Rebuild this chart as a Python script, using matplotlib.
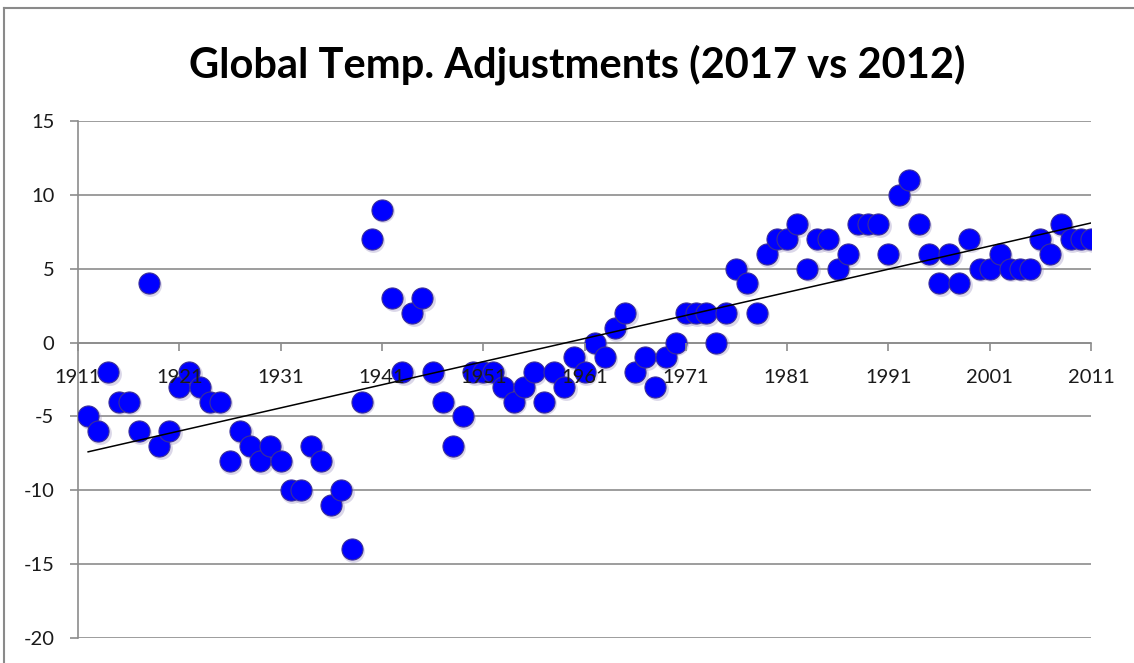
import numpy as np
import matplotlib
matplotlib.use("Agg")
import matplotlib.pyplot as plt
from matplotlib.lines import Line2D

plt.rcParams["axes.unicode_minus"] = False

# year-by-year adjustment
years = list(range(1912, 2012))
adjust = [
    -5, -6, -2, -4, -4, -6, 4, -7, -6,            # 1912-1920
    -3, -2, -3, -4, -4, -8, -6, -7, -8, -7,       # 1921-1930
    -8, -10, -10, -7, -8, -11, -10, -14, -4, 7,   # 1931-1940
    9, 3, -2, 2, 3, -2, -4, -7, -5, -2,           # 1941-1950
    -2, -2, -3, -4, -3, -2, -4, -2, -3, -1,       # 1951-1960
    -2, 0, -1, 1, 2, -2, -1, -3, -1, 0,           # 1961-1970
    2, 2, 2, 0, 2, 5, 4, 2, 6, 7,                 # 1971-1980
    7, 8, 5, 7, 7, 5, 6, 8, 8, 8,                 # 1981-1990
    6, 10, 11, 8, 6, 4, 6, 4, 7, 5,               # 1991-2000
    5, 6, 5, 5, 5, 7, 6, 8, 7, 7,                 # 2001-2010
    7,                                            # 2011
]
x_ticks = list(range(1911, 2012, 10))
y_ticks = [-20, -15, -10, -5, 0, 5, 10, 15]
title = "Global Temp. Adjustments (2017 vs 2012)"

W, H = 1134, 663
fig = plt.figure(figsize=(W / 100, H / 100), dpi=100)
ax = fig.add_axes([78 / W, 1 - 638 / H, (1091 - 78) / W, (638 - 121) / H])

grid_col = "#8c8c8c"
for yv in y_ticks:
    ax.axhline(yv, color=grid_col, lw=1.2, zorder=0)

# soft shadow under the markers, then the markers
ax.scatter(np.array(years) + 0.15, np.array(adjust) - 0.12, s=270,
           color="#9a8fc0", alpha=0.35, linewidths=0, zorder=1)
ax.scatter(years, adjust, s=230, color="#0000ff", edgecolors="#3a2f9a",
           linewidths=0.8, zorder=2)

# linear trend line
k, b = np.polyfit(years, adjust, 1)
xt = np.array([years[0], years[-1]])
ax.plot(xt, k * xt + b, color="black", lw=1.1, zorder=3)

ax.set_xlim(1911, 2011)
ax.set_ylim(-20, 15)
ax.set_xticks(x_ticks)
ax.set_yticks(y_ticks)

ax.spines["top"].set_visible(False)
ax.spines["right"].set_visible(False)
ax.spines["bottom"].set_position(("data", 0))
for s in ("left", "bottom"):
    ax.spines[s].set_color(grid_col)
    ax.spines[s].set_linewidth(1.2)
    ax.spines[s].set_zorder(0.5)

ax.tick_params(axis="both", direction="out", length=6, width=1.2,
               color=grid_col, labelsize=14.5, labelcolor="#1a1a1a")
ax.tick_params(axis="x", pad=13)
ax.tick_params(axis="y", pad=11)
for lab in ax.get_xticklabels() + ax.get_yticklabels():
    lab.set_fontfamily("Lato")
# year labels sit on top of the markers, as in the original
ax.xaxis.set_zorder(5)
ax.yaxis.set_zorder(5)

fig.text(577 / W, 1 - 65 / H, title, ha="center", va="center",
         fontsize=30, fontweight="bold", family="Lato", color="black")

# chart-area border (left and top edges visible)
fig.add_artist(Line2D([3.5 / W, 3.5 / W], [0, 1 - 8 / H], color="#8a8a8a", lw=1.5))
fig.add_artist(Line2D([3.5 / W, 1], [1 - 8 / H, 1 - 8 / H], color="#8a8a8a", lw=1.5))

fig.savefig("out.png", dpi=100, facecolor="white")
